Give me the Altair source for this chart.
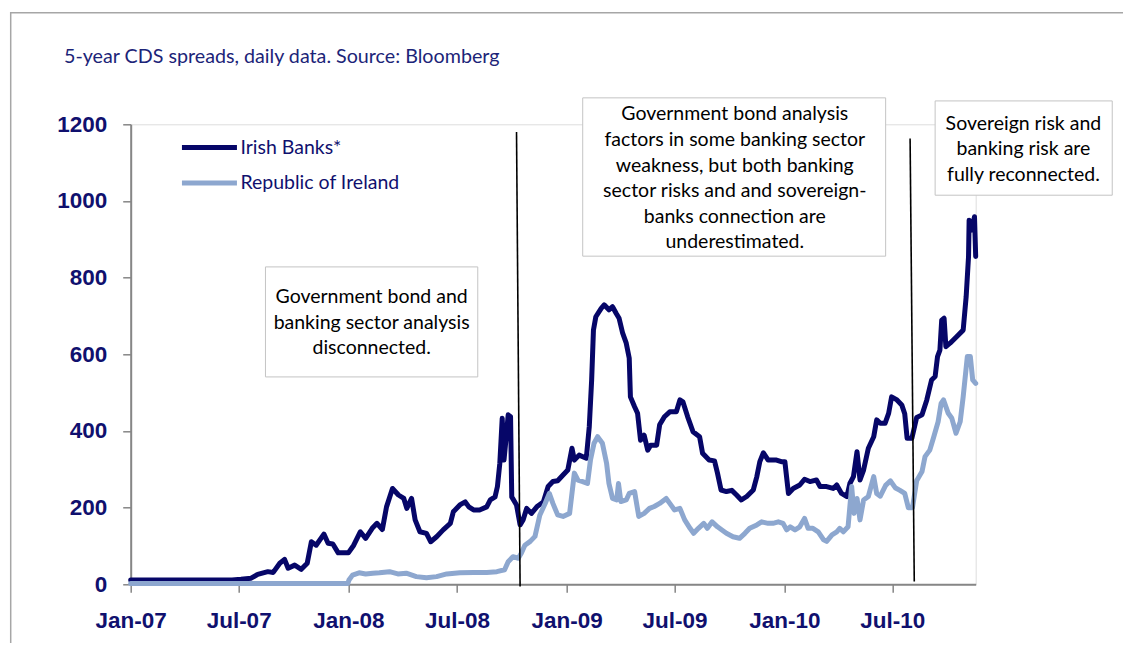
import altair as alt
import pandas as pd

# ---------------- data ----------------
series_names = ["Irish Banks*", "Republic of Ireland"]
series_colors = ["#060668", "#8da7cf"]

ib_dates = [
    "2007-01-01", "2007-03-15", "2007-06-20", "2007-07-05", "2007-07-22", "2007-08-02",
    "2007-08-19", "2007-08-28", "2007-09-08", "2007-09-16", "2007-09-22", "2007-10-03",
    "2007-10-14", "2007-10-24", "2007-10-31", "2007-11-08", "2007-11-21", "2007-11-28",
    "2007-12-06", "2007-12-15", "2008-01-01", "2008-01-10", "2008-01-21", "2008-01-30",
    "2008-02-10", "2008-02-18", "2008-02-27", "2008-03-05", "2008-03-15", "2008-03-25",
    "2008-04-03", "2008-04-08", "2008-04-16", "2008-04-22", "2008-04-30", "2008-05-11",
    "2008-05-18", "2008-05-28", "2008-06-08", "2008-06-20", "2008-06-25", "2008-07-06",
    "2008-07-15", "2008-07-21", "2008-07-29", "2008-08-08", "2008-08-20", "2008-08-26",
    "2008-09-03", "2008-09-07", "2008-09-11", "2008-09-15", "2008-09-18", "2008-09-22",
    "2008-09-25", "2008-09-29", "2008-10-01", "2008-10-09", "2008-10-15", "2008-10-20",
    "2008-10-26", "2008-11-03", "2008-11-12", "2008-11-23", "2008-12-01", "2008-12-09",
    "2008-12-17", "2008-12-26", "2009-01-03", "2009-01-10", "2009-01-14", "2009-01-22",
    "2009-02-03", "2009-02-08", "2009-02-12", "2009-02-15", "2009-02-19", "2009-02-28",
    "2009-03-05", "2009-03-13", "2009-03-19", "2009-03-25", "2009-03-30", "2009-04-05",
    "2009-04-11", "2009-04-16", "2009-04-18", "2009-04-25", "2009-04-30", "2009-05-05",
    "2009-05-11", "2009-05-17", "2009-05-22", "2009-06-01", "2009-06-06", "2009-06-14",
    "2009-06-23", "2009-07-04", "2009-07-10", "2009-07-15", "2009-07-23", "2009-08-01",
    "2009-08-12", "2009-08-17", "2009-08-28", "2009-09-06", "2009-09-11", "2009-09-17",
    "2009-09-26", "2009-10-05", "2009-10-13", "2009-10-21", "2009-10-30", "2009-11-10",
    "2009-11-16", "2009-11-21", "2009-11-27", "2009-12-05", "2009-12-19", "2009-12-27",
    "2010-01-02", "2010-01-08", "2010-01-16", "2010-01-27", "2010-02-04", "2010-02-13",
    "2010-02-24", "2010-03-02", "2010-03-13", "2010-03-24", "2010-03-30", "2010-04-07",
    "2010-04-16", "2010-04-21", "2010-04-27", "2010-05-03", "2010-05-08", "2010-05-14",
    "2010-05-22", "2010-05-31", "2010-06-05", "2010-06-11", "2010-06-19", "2010-06-25",
    "2010-06-30", "2010-07-09", "2010-07-17", "2010-07-22", "2010-07-26", "2010-08-03",
    "2010-08-11", "2010-08-20", "2010-08-28", "2010-09-05", "2010-09-11", "2010-09-15",
    "2010-09-19", "2010-09-22", "2010-09-26", "2010-09-29", "2010-10-06", "2010-10-17",
    "2010-10-28", "2010-11-02", "2010-11-06", "2010-11-07", "2010-11-11", "2010-11-16",
    "2010-11-18",
]
ib_vals = [
    11, 11, 11, 13, 16, 26,
    33, 31, 55, 65, 42, 50,
    39, 55, 111, 102, 131, 107,
    105, 82, 82, 102, 137, 120,
    146, 159, 143, 202, 250, 233,
    224, 198, 224, 168, 137, 133,
    111, 124, 142, 159, 189, 207,
    215, 202, 194, 194, 202, 220,
    228, 255, 316, 433, 324, 389,
    442, 437, 228, 207, 155, 168,
    198, 185, 202, 215, 255, 268,
    270, 285, 298, 355, 324, 337,
    329, 411, 533, 663, 698, 720,
    729, 716, 724, 707, 694, 655,
    629, 590, 489, 463, 446, 376,
    389, 350, 363, 363, 416, 437,
    450, 450, 481, 476, 437, 398,
    385, 342, 324, 322, 290, 246,
    242, 245, 233, 220, 229, 246,
    281, 320, 343, 324, 324, 320,
    320, 237, 250, 259, 274, 268,
    272, 255, 255, 250, 259, 237,
    229, 263, 281, 346, 272, 298,
    355, 385, 429, 420, 420, 446,
    489, 481, 468, 445, 381, 381,
    435, 442, 481, 533, 542, 594,
    611, 689, 694, 620, 629, 646,
    663, 750, 855, 950, 924, 959,
    855,
]

roi_dates = [
    "2007-01-01", "2007-12-31", "2008-01-02", "2008-01-08", "2008-01-19", "2008-01-30",
    "2008-02-11", "2008-02-22", "2008-03-10", "2008-03-24", "2008-04-07", "2008-04-24",
    "2008-05-11", "2008-05-28", "2008-06-14", "2008-07-06", "2008-07-29", "2008-08-20",
    "2008-09-06", "2008-09-19", "2008-09-25", "2008-10-03", "2008-10-12", "2008-10-17",
    "2008-10-23", "2008-11-01", "2008-11-09", "2008-11-17", "2008-11-26", "2008-12-03",
    "2008-12-09", "2008-12-17", "2008-12-26", "2009-01-06", "2009-01-14", "2009-01-20",
    "2009-01-28", "2009-02-05", "2009-02-10", "2009-02-16", "2009-02-22", "2009-03-02",
    "2009-03-09", "2009-03-13", "2009-03-19", "2009-03-26", "2009-03-29", "2009-04-02",
    "2009-04-11", "2009-04-16", "2009-04-25", "2009-05-02", "2009-05-11", "2009-05-20",
    "2009-05-28", "2009-06-06", "2009-06-17", "2009-06-23", "2009-07-01", "2009-07-10",
    "2009-07-18", "2009-07-27", "2009-08-02", "2009-08-10", "2009-08-19", "2009-08-25",
    "2009-09-02", "2009-09-11", "2009-09-19", "2009-09-26", "2009-10-07", "2009-10-18",
    "2009-10-27", "2009-11-04", "2009-11-16", "2009-11-24", "2009-12-05", "2009-12-13",
    "2009-12-22", "2009-12-30", "2010-01-05", "2010-01-11", "2010-01-19", "2010-01-27",
    "2010-02-04", "2010-02-10", "2010-02-18", "2010-02-27", "2010-03-08", "2010-03-13",
    "2010-03-22", "2010-03-30", "2010-04-04", "2010-04-10", "2010-04-18", "2010-04-24",
    "2010-04-28", "2010-05-03", "2010-05-08", "2010-05-14", "2010-05-22", "2010-05-31",
    "2010-06-05", "2010-06-11", "2010-06-20", "2010-06-28", "2010-07-06", "2010-07-14",
    "2010-07-22", "2010-07-28", "2010-08-04", "2010-08-11", "2010-08-20", "2010-08-25",
    "2010-09-02", "2010-09-08", "2010-09-16", "2010-09-21", "2010-09-25", "2010-10-03",
    "2010-10-09", "2010-10-16", "2010-10-23", "2010-10-28", "2010-11-04", "2010-11-09",
    "2010-11-13", "2010-11-18",
]
roi_vals = [
    2, 2, 11, 24, 30, 27,
    29, 30, 33, 27, 29, 20,
    17, 20, 27, 30, 31, 31,
    33, 38, 59, 72, 68, 81,
    102, 112, 125, 180, 211, 237,
    211, 181, 177, 185, 290, 272,
    268, 263, 324, 368, 385, 368,
    316, 263, 224, 220, 263, 216,
    220, 237, 242, 177, 185, 198,
    203, 211, 224, 211, 194, 198,
    168, 146, 133, 146, 159, 146,
    163, 150, 141, 133, 124, 120,
    133, 146, 155, 163, 159, 159,
    163, 159, 142, 150, 142, 150,
    172, 146, 146, 137, 116, 112,
    129, 137, 146, 137, 150, 255,
    185, 224, 168, 220, 229, 281,
    237, 230, 258, 270, 252, 245,
    237, 200, 200, 270, 294, 333,
    350, 381, 424, 472, 481, 446,
    433, 394, 424, 489, 594, 594,
    533, 524,
]

# event lines (dates of the regime changes)
rule_start = ["2008-10-09", "2010-07-31"]
rule_end = ["2008-10-15", "2010-08-07"]
rule_top = [1180, 1163]
rule_bottom = [-6, 7]

# annotation boxes
box_texts = [
    "Government bond and\nbanking sector analysis\ndisconnected.",
    "Government bond analysis\nfactors in some banking sector\nweakness, but both banking\nsector risks and and sovereign-\nbanks connection are\nunderestimated.",
    "Sovereign risk and\nbanking risk are\nfully reconnected.",
]
box_left = ["2007-08-15", "2009-01-28", "2010-09-11"]
box_right = ["2008-08-05", "2010-06-20", "2011-07-05"]
box_top = [828, 1269, 1261]
box_bottom = [541, 856, 1015]
text_date = ["2008-02-09", "2009-10-10", "2011-02-06"]
text_value = [749, 1226, 1202]

title_text = ["5-year CDS spreads, daily data. Source: Bloomberg"]
y_ticks = [0, 200, 400, 600, 800, 1000, 1200]
x_tick_years_months = [(2007, 1), (2007, 7), (2008, 1), (2008, 7),
                       (2009, 1), (2009, 7), (2010, 1), (2010, 7)]

# ---------------- tables ----------------
df = pd.concat([
    pd.DataFrame({"date": ib_dates, "value": ib_vals, "series": series_names[0]}),
    pd.DataFrame({"date": roi_dates, "value": roi_vals, "series": series_names[1]}),
], ignore_index=True)
rules_df = pd.DataFrame({"d1": rule_start, "d2": rule_end, "v1": rule_top, "v2": rule_bottom})
boxes_df = pd.DataFrame({"d1": box_left, "d2": box_right, "v1": box_top, "v2": box_bottom,
                         "td": text_date, "tv": text_value, "t": box_texts})

NAVY = "#10106e"
AXIS_GRAY = "#868686"
TXT_FONT = "Lato"
TXT_SIZE = 19.5

x_scale = alt.Scale(type="utc", nice=False,
                    domain=[alt.DateTime(year=2007, month=1, date=1, utc=True),
                            alt.DateTime(year=2010, month=11, date=18, utc=True)])
y_scale = alt.Scale(domain=[0, 1200], nice=False, zero=False)

x_axis = alt.Axis(
    values=[alt.DateTime(year=yy, month=mm, date=1, utc=True) for yy, mm in x_tick_years_months],
    format="%b-%y", title=None, grid=False,
    labelFont="Liberation Sans", labelFontSize=22.5, labelFontWeight="bold", labelColor=NAVY,
    labelPadding=17, labelFlush=False, labelOverlap=False,
    domainColor=AXIS_GRAY, domainWidth=2, tickColor=AXIS_GRAY, tickWidth=1.5, tickSize=8,
)
y_axis = alt.Axis(
    values=y_ticks, format="d", title=None, grid=False,
    labelFont="Liberation Sans", labelFontSize=22.5, labelFontWeight="bold", labelColor=NAVY,
    labelPadding=16,
    domainColor=AXIS_GRAY, domainWidth=2, tickColor=AXIS_GRAY, tickWidth=1.5, tickSize=8,
)

frame = alt.Chart(pd.DataFrame({"k": [0]})).mark_rect(
    fillOpacity=0, stroke="#a6a6a6", strokeWidth=1.5
).encode(x=alt.value(-120), y=alt.value(-111.6), x2=alt.value(1100), y2=alt.value(620))

title = alt.Chart(pd.DataFrame({"t": title_text})).mark_text(
    font=TXT_FONT, fontSize=19.7, color="#1c2478", align="left", baseline="alphabetic",
).encode(x=alt.value(-66.7), y=alt.value(-61.5), text="t:N")

boxes = alt.Chart(boxes_df).mark_rect(fill="white", stroke="#c4c4c4", strokeWidth=1).encode(
    x=alt.X("d1:T", scale=x_scale, axis=x_axis),
    x2="d2:T",
    y=alt.Y("v1:Q", scale=y_scale, axis=y_axis),
    y2="v2:Q",
)
texts = alt.Chart(boxes_df).mark_text(
    font=TXT_FONT, fontSize=TXT_SIZE, color="black", lineBreak="\n", lineHeight=25.6,
    align="center", baseline="middle",
).encode(x=alt.X("td:T", scale=x_scale), y=alt.Y("tv:Q", scale=y_scale), text="t:N")

lines = alt.Chart(df).mark_line(strokeWidth=5, strokeCap="round", strokeJoin="round").encode(
    x=alt.X("date:T", scale=x_scale, axis=x_axis),
    y=alt.Y("value:Q", scale=y_scale, axis=y_axis),
    color=alt.Color("series:N",
                    scale=alt.Scale(domain=series_names, range=series_colors),
                    legend=alt.Legend(orient="none", legendX=62.25, legendY=6.75, title=None,
                                      symbolType="M-2,0H2", symbolSize=756, symbolStrokeWidth=5,
                                      labelFont=TXT_FONT, labelFontSize=TXT_SIZE, labelColor=NAVY,
                                      rowPadding=8.5, labelOffset=14.5, padding=0)),
    detail="series:N",
)

rules = alt.Chart(rules_df).mark_rule(color="black", strokeWidth=1.6).encode(
    x=alt.X("d1:T", scale=x_scale), x2="d2:T",
    y=alt.Y("v1:Q", scale=y_scale), y2="v2:Q",
)

chart = alt.layer(frame, title, boxes, texts, lines, rules).properties(
    width=845, height=460,
    padding={"left": 122.7, "top": 116.3, "right": 147, "bottom": 59},
    autosize=alt.AutoSizeParams(type="none"),
).configure_view(stroke=None).configure(background="white")

chart.save("out.html", embed_options={"renderer": "svg", "actions": False})
